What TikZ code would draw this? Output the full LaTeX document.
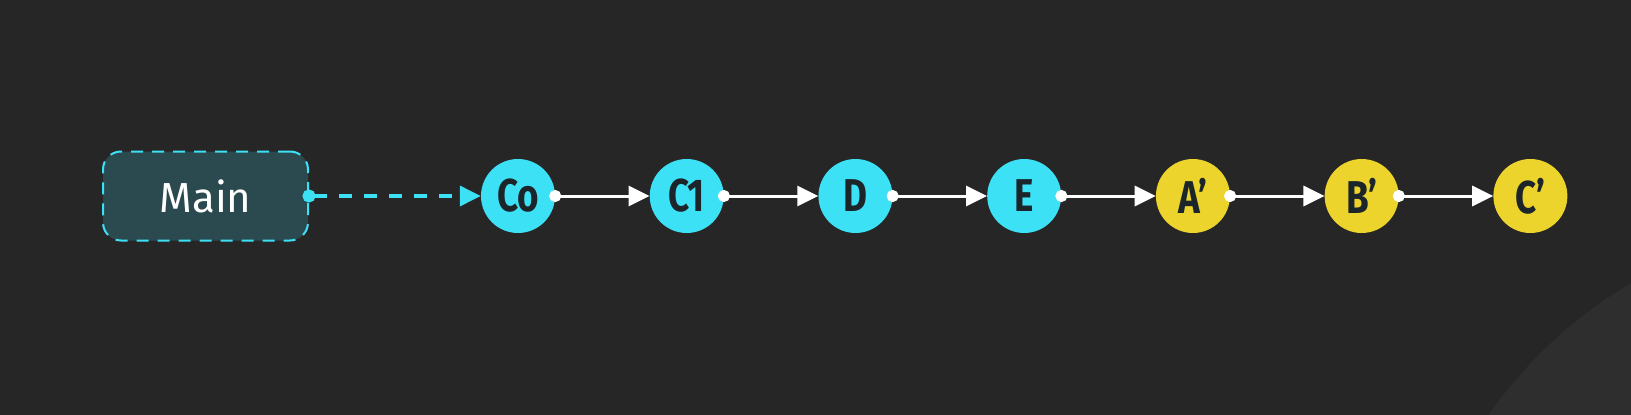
\documentclass[tikz,border=0pt]{standalone}
\usepackage{fontspec}
\setmainfont{Fira Sans}
\newfontfamily\lblfont[FakeStretch=0.8]{Fira Sans}
\usepackage{tikz}
\usetikzlibrary{positioning,arrows.meta}
\definecolor{bg}{HTML}{262626}
\definecolor{bgarc}{HTML}{2E2E2E}
\definecolor{cyanc}{HTML}{3DE1F6}
\definecolor{yellowc}{HTML}{ECD42C}
\definecolor{branchfill}{HTML}{2A4A4F}
\definecolor{ink}{HTML}{1C2529}

\begin{document}
\begin{tikzpicture}[x=1pt,y=-1pt,
		commit/.style={circle,minimum size=74pt,inner sep=0pt,text=ink,
			font={\lblfont\bfseries\fontsize{46}{46}\selectfont}},
		old/.style={commit,fill=cyanc},
		new/.style={commit,fill=yellowc},
		branch/.style={draw=cyanc,fill=branchfill,line width=2pt,dash pattern=on 12pt off 9pt,
			rounded corners=18pt,minimum width=205pt,minimum height=89pt,text=white,
			font={\fontsize{42}{42}\selectfont}},
		flow/.style={white,line width=3pt,shorten <=-6pt,
			{Circle[length=12pt]}-{Triangle[length=21pt,width=20pt]}},
		link/.style={cyanc,line width=3.5pt,dash pattern=on 13pt off 12pt,shorten <=-6.5pt,
			{Circle[length=13pt]}-{Triangle[length=21pt,width=20pt]}},
		node distance=94.33pt
	]
		\useasboundingbox (0,0) rectangle (1631,415);
		\fill[bg] (0,0) rectangle (1631,415);
		\begin{scope}
			\clip (0,0) rectangle (1631,415);
			\fill[bgarc] (1858,672) circle (450pt);
		\end{scope}
		\node[branch] (main) at (205.5,196) {Main};
		\node[old] (c0) at (518,196) {Co};
		\node[old,right=of c0] (c1) {C1};
		\node[old,right=of c1] (d) {D};
		\node[old,right=of d] (e) {E};
		\node[new,right=of e] (a) {A’};
		\node[new,right=of a] (b) {B’};
		\node[new,right=of b] (c) {C’};
		\path[link] (main) edge (c0);
		\path[flow]
			(c0) edge (c1)
			(c1) edge (d)
			(d) edge (e)
			(e) edge (a)
			(a) edge (b)
			(b) edge (c)
		;
	\end{tikzpicture}
\end{document}
